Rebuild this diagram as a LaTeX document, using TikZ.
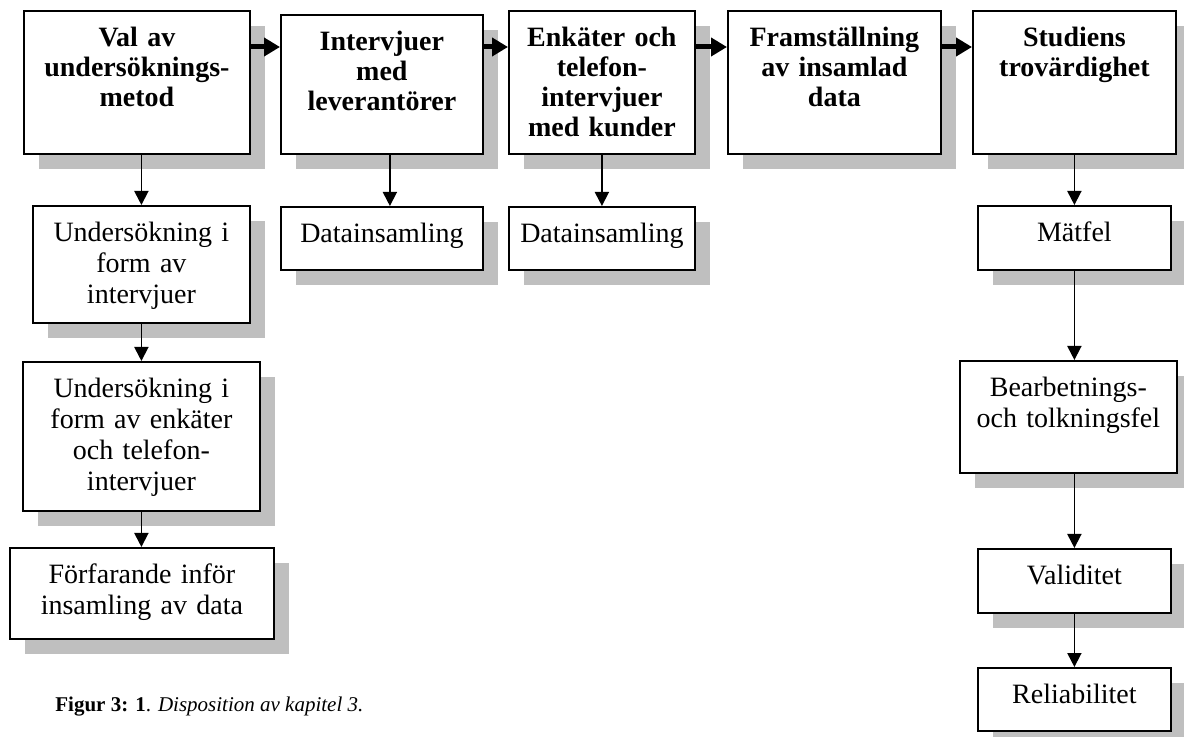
\documentclass[tikz,border=0pt]{standalone}
\usepackage{fontspec}
\setmainfont{Liberation Serif}
\usepackage{tikz}
\usetikzlibrary{positioning,shadows,arrows.meta}

\begin{document}
\begin{tikzpicture}[x=0.5pt, y=-0.5pt,
    box/.style={draw, line width=0.9pt, fill=white, anchor=north west, inner sep=0pt,
        align=center, text height=18pt, font=\fontsize{14}{15.5}\selectfont,
        drop shadow={shadow xshift=7.5pt, shadow yshift=-7.5pt, fill=gray!50, opacity=1}},
    head/.style={box, font=\fontsize{14}{15}\selectfont\bfseries, text depth=53.5pt},
    down/.style={-{Triangle[width=7pt,length=7pt]}, line width=0.9pt},
    flow/.style={-{Triangle[width=9pt,length=8pt]}, line width=2.5pt}]
    \useasboundingbox (0,0) rectangle (1184,737);

    % Main steps
    \node[head, text width=113pt] (val) at (23,10) {Val av\\undersöknings-\\metod};
    \node[head, text width=101pt, text depth=51.5pt] (intv) at (280,14) {Intervjuer\\med\\leverantörer};
    \node[head, text width=93pt] (enk) at (508,10) {Enkäter och\\telefon-\\intervjuer\\med kunder};
    \node[head, text width=106.5pt] (fram) at (727,10) {Framställning\\av insamlad\\data};
    \node[head, text width=101.5pt] (stud) at (972,10) {Studiens\\trovärdighet};

    % Method column
    \node[box, text width=108.5pt, text depth=40.5pt] (intform) at (32,205) {Undersökning i\\form av\\intervjuer};
    \node[box, text width=118.5pt, text depth=56.5pt] (enkform) at (22,361) {Undersökning i\\form av enkäter\\och telefon-\\intervjuer};
    \node[box, text width=132pt, text depth=27.5pt] (forf) at (9,547) {Förfarande inför\\insamling av data};

    % Data collection
    \node[box, text width=101pt, text depth=13.5pt] (data1) at (280,206) {Datainsamling};
    \node[box, text width=93pt, text depth=13.5pt] (data2) at (508,206) {Datainsamling};

    % Trustworthiness column
    \node[box, text width=96.5pt, text depth=14pt] (matfel) at (977,205) {Mätfel};
    \node[box, text width=108.5pt, text depth=38pt] (bearb) at (959,360) {Bearbetnings-\\och tolkningsfel};
    \node[box, text width=96.5pt, text depth=14pt] (valid) at (977,548) {Validitet};
    \node[box, text width=96.5pt, text depth=13.5pt] (relia) at (977,667) {Reliabilitet};

    % Flow between steps
    \coordinate (row) at (0,47);
    \draw[flow] (val.east |- row) -- (intv.west |- row);
    \draw[flow] (intv.east |- row) -- (enk.west |- row);
    \draw[flow] (enk.east |- row) -- (fram.west |- row);
    \draw[flow] (fram.east |- row) -- (stud.west |- row);

    % Down arrows
    \draw[down] (val.south -| intform.north) -- (intform.north);
    \draw[down] (intform.south) -- (intform.south |- enkform.north);
    \draw[down] (enkform.south -| intform.south) -- (intform.south |- forf.north);
    \draw[down] ([xshift=4pt]intv.south) -- ([xshift=4pt]data1.north);
    \draw[down] (enk.south) -- (data2.north);
    \draw[down] (stud.south) -- (matfel.north);
    \draw[down] (matfel.south) -- (matfel.south |- bearb.north);
    \draw[down] (matfel.south |- bearb.south) -- (valid.north);
    \draw[down] (valid.south) -- (relia.north);

    % Caption
    \node[anchor=base west, inner sep=0pt, font=\fontsize{10.5}{12}\selectfont] (caption) at (55,711)
        {\textbf{Figur 3: 1}. \textit{Disposition av kapitel 3.}};
\end{tikzpicture}
\end{document}
